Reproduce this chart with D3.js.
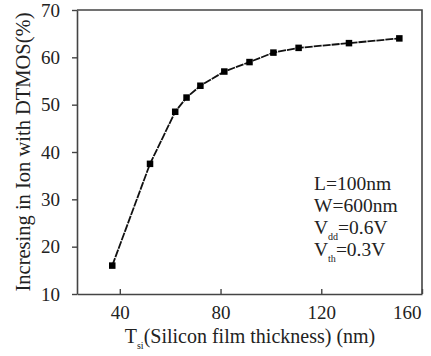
<!DOCTYPE html>
<html>
<head>
<meta charset="utf-8">
<script src="https://cdn.jsdelivr.net/npm/d3@7"></script>
<style>
  html, body { margin: 0; padding: 0; background: #fff; }
  text { font-family: "Liberation Serif", "Times New Roman", serif; fill: #222; }
</style>
</head>
<body>
<svg id="chart" width="431" height="356"></svg>
<script>
const thickness = [37, 52, 62, 66.5, 72, 81.5, 91.5, 101, 111, 131, 151];
const increase = [16, 37.5, 48.5, 51.5, 54, 57, 59, 61, 62, 63, 64];
const xTicks = [40, 80, 120, 160];
const yTicks = [10, 20, 30, 40, 50, 60, 70];
const notes = [
  {main: "L=100nm", sub: "", rest: ""},
  {main: "W=600nm", sub: "", rest: ""},
  {main: "V", sub: "dd", rest: "=0.6V"},
  {main: "V", sub: "th", rest: "=0.3V"}
];

const svg = d3.select("#chart");
const mLeft = 77, mRight = 422, mTop = 10, mBottom = 294;
const x = d3.scaleLinear().domain([23, 160]).range([mLeft, mRight]);
const y = d3.scaleLinear().domain([10, 70]).range([mBottom, mTop]);
const axisColor = "#444";

// frame (top and right)
svg.append("path")
  .attr("d", `M${mLeft},${mTop}H${mRight}V${mBottom}`)
  .attr("fill", "none").attr("stroke", axisColor).attr("stroke-width", 1.6);

// x axis (ticks inward)
const gx = svg.append("g").attr("transform", `translate(0,${mBottom})`)
  .call(d3.axisBottom(x).tickValues(xTicks).tickSize(0).tickPadding(12).tickFormat(d3.format("d")));
gx.select(".domain").attr("stroke", axisColor).attr("stroke-width", 1.6);
gx.selectAll(".tick").append("line").attr("y1", 0).attr("y2", -5).attr("stroke", axisColor).attr("stroke-width", 1.4);
gx.selectAll("text").attr("font-size", 19).attr("font-family", "Liberation Serif, serif").attr("fill", "#222");
gx.selectAll(".tick text").filter(d => d === 160).attr("text-anchor", "end").attr("x", -1);

// y axis (ticks outward)
const gy = svg.append("g").attr("transform", `translate(${mLeft},0)`)
  .call(d3.axisLeft(y).tickValues(yTicks).tickSize(5).tickSizeOuter(0).tickPadding(12).tickFormat(d3.format("d")));
gy.select(".domain").attr("stroke", axisColor).attr("stroke-width", 1.6);
gy.selectAll(".tick line").attr("stroke", axisColor).attr("stroke-width", 1.4);
gy.selectAll("text").attr("font-size", 19).attr("font-family", "Liberation Serif, serif").attr("fill", "#222");

// line
const pts = thickness.map((t, i) => [t, increase[i]]);
svg.append("path")
  .datum(pts)
  .attr("d", d3.line().x(d => x(d[0])).y(d => y(d[1])))
  .attr("fill", "none").attr("stroke", "#111").attr("stroke-width", 1.8)
  .attr("stroke-dasharray", "8,1");

// markers
const ms = 6.5;
svg.append("g").selectAll("rect").data(pts).join("rect")
  .attr("x", d => x(d[0]) - ms / 2).attr("y", d => y(d[1]) - ms / 2)
  .attr("width", ms).attr("height", ms).attr("fill", "#000");

// annotation
const ann = svg.append("g");
notes.forEach((n, i) => {
  const t = ann.append("text").attr("x", 314).attr("y", 190 + i * 22).attr("font-size", 19.5);
  t.append("tspan").text(n.main);
  if (n.sub) {
    t.append("tspan").attr("font-size", 10).attr("dy", 6).text(n.sub);
    t.append("tspan").attr("dy", -6).text(n.rest);
  }
});

// x axis title
const xt = svg.append("text").attr("x", 250).attr("y", 343).attr("text-anchor", "middle").attr("font-size", 20);
xt.append("tspan").text("T");
xt.append("tspan").attr("font-size", 10).attr("dy", 6).text("si");
xt.append("tspan").attr("dy", -6).text("(Silicon film thickness) (nm)");

// y axis title
svg.append("text")
  .attr("transform", `translate(30,${(mTop + mBottom) / 2}) rotate(-90)`)
  .attr("text-anchor", "middle").attr("font-size", 20.5)
  .text("Incresing in Ion with DTMOS(%)");
</script>
</body>
</html>
